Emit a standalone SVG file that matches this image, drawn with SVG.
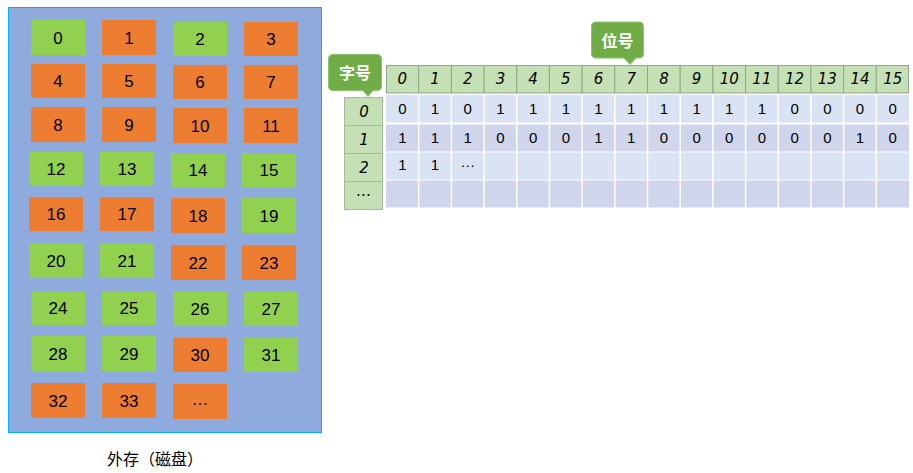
<svg xmlns="http://www.w3.org/2000/svg" width="913" height="473" viewBox="0 0 913 473">
<defs>
<style>
.g{fill:#92d050}
.o{fill:#ed7d31}
.bt{font-family:"Liberation Sans",Arial,sans-serif;font-size:17px;fill:#000;text-anchor:middle;dominant-baseline:central}
.hd{fill:#c5e0b4;stroke:#8fa98a;stroke-width:1}
.ht{font-family:"DejaVu Sans","Liberation Sans",sans-serif;font-style:italic;font-size:15px;fill:#000;text-anchor:middle;dominant-baseline:central}
.lc{fill:#c5e0b4;stroke:#a6b99c;stroke-width:1}
.dt{font-family:"Liberation Sans",Arial,sans-serif;font-size:15px;fill:#000;text-anchor:middle;dominant-baseline:central}
.ra{fill:#dae3f3}
.rb{fill:#cfd5ea}
.wl{stroke:#fff;stroke-width:1.5}
.co{fill:#70ad47;stroke:#8cc36a;stroke-width:1}
.ct{font-family:"Noto Sans CJK SC","Noto Sans",sans-serif;font-weight:bold;font-size:16px;fill:#fff;text-anchor:middle;dominant-baseline:central}
.cap{font-family:"Noto Sans CJK SC","Noto Sans",sans-serif;font-size:16px;fill:#000;text-anchor:middle;dominant-baseline:central}
</style>
</defs>
<rect x="0" y="0" width="913" height="473" fill="#fff"/>
<g id="disk">
<rect x="8.5" y="7.5" width="313" height="425" fill="#8faadc" stroke="#00b0f0" stroke-width="1"/>
<g id="b0"><rect class="g" x="31" y="20" width="54" height="35"/><text class="bt" x="58" y="38">0</text></g>
<g id="b1"><rect class="o" x="102" y="20" width="54" height="35"/><text class="bt" x="129" y="38">1</text></g>
<g id="b2"><rect class="g" x="173" y="22" width="54" height="34"/><text class="bt" x="200" y="39.5">2</text></g>
<g id="b3"><rect class="o" x="244" y="22" width="54" height="34"/><text class="bt" x="271" y="39.5">3</text></g>
<g id="b4"><rect class="o" x="31" y="64" width="54" height="34"/><text class="bt" x="58" y="81.5">4</text></g>
<g id="b5"><rect class="o" x="102" y="64" width="54" height="34"/><text class="bt" x="129" y="81.5">5</text></g>
<g id="b6"><rect class="o" x="173" y="65" width="54" height="34"/><text class="bt" x="200" y="82.5">6</text></g>
<g id="b7"><rect class="o" x="244" y="65" width="54" height="34"/><text class="bt" x="271" y="82.5">7</text></g>
<g id="b8"><rect class="o" x="31" y="107" width="54" height="35"/><text class="bt" x="58" y="125">8</text></g>
<g id="b9"><rect class="o" x="102" y="107" width="54" height="35"/><text class="bt" x="129" y="125">9</text></g>
<g id="b10"><rect class="o" x="173" y="108" width="54" height="35"/><text class="bt" x="200" y="126">10</text></g>
<g id="b11"><rect class="o" x="244" y="108" width="54" height="35"/><text class="bt" x="271" y="126">11</text></g>
<g id="b12"><rect class="g" x="29" y="152" width="54" height="34"/><text class="bt" x="56" y="169.5">12</text></g>
<g id="b13"><rect class="g" x="100" y="152" width="54" height="34"/><text class="bt" x="127" y="169.5">13</text></g>
<g id="b14"><rect class="g" x="171" y="153" width="54" height="34"/><text class="bt" x="198" y="170.5">14</text></g>
<g id="b15"><rect class="g" x="242" y="153" width="54" height="34"/><text class="bt" x="269" y="170.5">15</text></g>
<g id="b16"><rect class="o" x="29" y="197" width="54" height="34"/><text class="bt" x="56" y="214.5">16</text></g>
<g id="b17"><rect class="o" x="100" y="197" width="54" height="34"/><text class="bt" x="127" y="214.5">17</text></g>
<g id="b18"><rect class="o" x="171" y="198" width="54" height="35"/><text class="bt" x="198" y="216">18</text></g>
<g id="b19"><rect class="g" x="242" y="198" width="54" height="35"/><text class="bt" x="269" y="216">19</text></g>
<g id="b20"><rect class="g" x="29" y="244" width="54" height="34"/><text class="bt" x="56" y="261.5">20</text></g>
<g id="b21"><rect class="g" x="100" y="244" width="54" height="34"/><text class="bt" x="127" y="261.5">21</text></g>
<g id="b22"><rect class="o" x="171" y="245" width="54" height="35"/><text class="bt" x="198" y="263">22</text></g>
<g id="b23"><rect class="o" x="242" y="245" width="54" height="35"/><text class="bt" x="269" y="263">23</text></g>
<g id="b24"><rect class="g" x="31" y="291" width="54" height="34"/><text class="bt" x="58" y="308.5">24</text></g>
<g id="b25"><rect class="g" x="102" y="291" width="54" height="34"/><text class="bt" x="129" y="308.5">25</text></g>
<g id="b26"><rect class="g" x="173" y="292" width="54" height="34"/><text class="bt" x="200" y="309.5">26</text></g>
<g id="b27"><rect class="g" x="244" y="292" width="54" height="34"/><text class="bt" x="271" y="309.5">27</text></g>
<g id="b28"><rect class="g" x="31" y="336" width="54" height="35"/><text class="bt" x="58" y="354">28</text></g>
<g id="b29"><rect class="g" x="102" y="336" width="54" height="35"/><text class="bt" x="129" y="354">29</text></g>
<g id="b30"><rect class="o" x="173" y="338" width="54" height="34"/><text class="bt" x="200" y="355.5">30</text></g>
<g id="b31"><rect class="g" x="244" y="338" width="54" height="34"/><text class="bt" x="271" y="355.5">31</text></g>
<g id="b32"><rect class="o" x="31" y="383" width="54" height="35"/><text class="bt" x="58" y="401">32</text></g>
<g id="b33"><rect class="o" x="102" y="383" width="54" height="35"/><text class="bt" x="129" y="401">33</text></g>
<g id="bmore"><rect class="o" x="173" y="384" width="54" height="35"/><text class="bt" x="200" y="399">…</text></g>
</g>
<text class="cap" x="155" y="458">外存（磁盘）</text>

<g id="table">
<rect class="ra" x="386" y="95" width="523" height="27.5"/>
<rect class="rb" x="386" y="124.5" width="523" height="27"/>
<rect class="ra" x="386" y="152.5" width="523" height="27"/>
<rect class="rb" x="386" y="180.5" width="523" height="27"/>
<g class="wl">
<line x1="418.7" y1="95" x2="418.7" y2="208"/><line x1="451.4" y1="95" x2="451.4" y2="208"/><line x1="484.1" y1="95" x2="484.1" y2="208"/><line x1="516.8" y1="95" x2="516.8" y2="208"/><line x1="549.4" y1="95" x2="549.4" y2="208"/><line x1="582.1" y1="95" x2="582.1" y2="208"/><line x1="614.8" y1="95" x2="614.8" y2="208"/><line x1="647.5" y1="95" x2="647.5" y2="208"/><line x1="680.2" y1="95" x2="680.2" y2="208"/><line x1="712.9" y1="95" x2="712.9" y2="208"/><line x1="745.6" y1="95" x2="745.6" y2="208"/><line x1="778.3" y1="95" x2="778.3" y2="208"/><line x1="810.9" y1="95" x2="810.9" y2="208"/><line x1="843.6" y1="95" x2="843.6" y2="208"/><line x1="876.3" y1="95" x2="876.3" y2="208"/>
</g>
<g id="header">
<rect class="hd" x="386.5" y="65.5" width="32.2" height="27.5"/><rect class="hd" x="418.7" y="65.5" width="32.7" height="27.5"/><rect class="hd" x="451.4" y="65.5" width="32.7" height="27.5"/><rect class="hd" x="484.1" y="65.5" width="32.7" height="27.5"/><rect class="hd" x="516.8" y="65.5" width="32.6" height="27.5"/><rect class="hd" x="549.4" y="65.5" width="32.7" height="27.5"/><rect class="hd" x="582.1" y="65.5" width="32.7" height="27.5"/><rect class="hd" x="614.8" y="65.5" width="32.7" height="27.5"/><rect class="hd" x="647.5" y="65.5" width="32.7" height="27.5"/><rect class="hd" x="680.2" y="65.5" width="32.7" height="27.5"/><rect class="hd" x="712.9" y="65.5" width="32.7" height="27.5"/><rect class="hd" x="745.6" y="65.5" width="32.7" height="27.5"/><rect class="hd" x="778.3" y="65.5" width="32.6" height="27.5"/><rect class="hd" x="810.9" y="65.5" width="32.7" height="27.5"/><rect class="hd" x="843.6" y="65.5" width="32.7" height="27.5"/><rect class="hd" x="876.3" y="65.5" width="32.2" height="27.5"/>
<text class="ht" x="402.3" y="79">0</text><text class="ht" x="435" y="79">1</text><text class="ht" x="467.7" y="79">2</text><text class="ht" x="500.4" y="79">3</text><text class="ht" x="533.1" y="79">4</text><text class="ht" x="565.8" y="79">5</text><text class="ht" x="598.5" y="79">6</text><text class="ht" x="631.2" y="79">7</text><text class="ht" x="663.9" y="79">8</text><text class="ht" x="696.6" y="79">9</text><text class="ht" x="729.2" y="79">10</text><text class="ht" x="761.9" y="79">11</text><text class="ht" x="794.6" y="79">12</text><text class="ht" x="827.3" y="79">13</text><text class="ht" x="860" y="79">14</text><text class="ht" x="892.7" y="79">15</text>
</g>
<g id="row0">
<text class="dt" x="402.3" y="108.5">0</text><text class="dt" x="435" y="108.5">1</text><text class="dt" x="467.7" y="108.5">0</text><text class="dt" x="500.4" y="108.5">1</text><text class="dt" x="533.1" y="108.5">1</text><text class="dt" x="565.8" y="108.5">1</text><text class="dt" x="598.5" y="108.5">1</text><text class="dt" x="631.2" y="108.5">1</text><text class="dt" x="663.9" y="108.5">1</text><text class="dt" x="696.6" y="108.5">1</text><text class="dt" x="729.2" y="108.5">1</text><text class="dt" x="761.9" y="108.5">1</text><text class="dt" x="794.6" y="108.5">0</text><text class="dt" x="827.3" y="108.5">0</text><text class="dt" x="860" y="108.5">0</text><text class="dt" x="892.7" y="108.5">0</text>
</g>
<g id="row1">
<text class="dt" x="402.3" y="137">1</text><text class="dt" x="435" y="137">1</text><text class="dt" x="467.7" y="137">1</text><text class="dt" x="500.4" y="137">0</text><text class="dt" x="533.1" y="137">0</text><text class="dt" x="565.8" y="137">0</text><text class="dt" x="598.5" y="137">1</text><text class="dt" x="631.2" y="137">1</text><text class="dt" x="663.9" y="137">0</text><text class="dt" x="696.6" y="137">0</text><text class="dt" x="729.2" y="137">0</text><text class="dt" x="761.9" y="137">0</text><text class="dt" x="794.6" y="137">0</text><text class="dt" x="827.3" y="137">0</text><text class="dt" x="860" y="137">1</text><text class="dt" x="892.7" y="137">0</text>
</g>
<g id="row2">
<text class="dt" x="402.3" y="164.5">1</text><text class="dt" x="435" y="164.5">1</text><text class="dt" x="467.7" y="161">…</text>
</g>
<g id="rowlabels">
<rect class="lc" x="344.5" y="97.5" width="38" height="28"/>
<rect class="lc" x="344.5" y="125.5" width="38" height="28"/>
<rect class="lc" x="344.5" y="153.5" width="38" height="28"/>
<rect class="lc" x="344.5" y="181.5" width="38" height="28"/>
<text class="ht" x="364" y="111.5">0</text>
<text class="ht" x="364" y="139.5">1</text>
<text class="ht" x="364" y="167.5">2</text>
<text class="ht" x="364" y="191">…</text>
</g>
</g>
<g id="callout-word">
<path class="co" d="M333,54.5 H377 Q381.5,54.5 381.5,59 V86 Q381.5,90.5 377,90.5 H373 L368,96.5 L363,90.5 H333 Q328.5,90.5 328.5,86 V59 Q328.5,54.5 333,54.5 Z"/>
<text class="ct" x="355" y="72">字号</text>
</g>
<g id="callout-bit">
<path class="co" d="M596,22 H639 Q643.5,22 643.5,26.5 V53.5 Q643.5,58 639,58 H636 L630,64.5 L624,58 H596 Q591.5,58 591.5,53.5 V26.5 Q591.5,22 596,22 Z"/>
<text class="ct" x="617.5" y="39.5">位号</text>
</g>
</svg>
